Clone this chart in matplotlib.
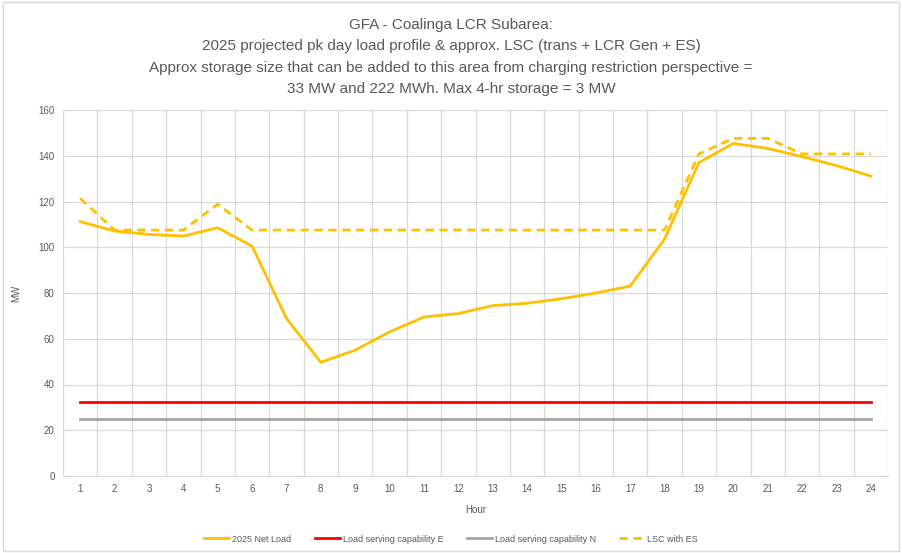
import numpy as np
import matplotlib.pyplot as plt

plt.rcParams['font.family'] = ['Liberation Sans Narrow', 'Liberation Sans', 'DejaVu Sans']

hours = list(range(1, 25))
net_load = [111.2, 107.1, 105.6, 104.9, 108.5, 100.5, 68.9, 49.7, 55.0, 63.0, 69.5, 71.0,
            74.5, 75.5, 77.5, 80.0, 83.0, 103.6, 137.0, 145.4, 143.2, 139.6, 135.7, 131.1]
lsc_e = [32.5] * 24
lsc_n = [25.0] * 24
lsc_es = [121.4, 107.5, 107.5, 107.5, 118.8, 107.5, 107.5, 107.5, 107.5, 107.5, 107.5, 107.5,
          107.5, 107.5, 107.5, 107.5, 107.5, 107.5, 140.8, 147.6, 147.6, 140.8, 140.8, 140.8]

title = ("GFA - Coalinga LCR Subarea:\n"
         "2025 projected pk day load profile & approx. LSC (trans + LCR Gen + ES)\n"
         "Approx storage size that can be added to this area from charging restriction perspective =\n"
         "33 MW and 222 MWh. Max 4-hr storage = 3 MW")

fig = plt.figure(figsize=(9.02, 5.53), dpi=100)
ax = fig.add_axes([63 / 902, 1 - 476 / 553, (888 - 63) / 902, (476 - 110) / 553])

ax.plot(hours, net_load, color='#FFC000', lw=2, label='2025 Net Load')
ax.plot(hours, lsc_e, color='#FF0000', lw=2, label='Load serving capability E')
ax.plot(hours, lsc_n, color='#A5A5A5', lw=2, label='Load serving capability N')
ax.plot(hours, lsc_es, color='#FFC000', lw=2, ls=(0, (3, 2)), label='LSC with ES')

ax.set_xlim(0.5, 24.5)
ax.set_ylim(0, 160)
ax.set_xticks(hours)
ax.set_xticks(np.arange(0.5, 25, 1), minor=True)
ax.set_yticks(range(0, 161, 20))
ax.grid(False)
ax.grid(True, which='minor', axis='x', color='#D9D9D9', lw=0.9)
ax.grid(True, which='major', axis='y', color='#D9D9D9', lw=0.9)
ax.set_axisbelow(True)
ax.tick_params(which='both', length=0, labelsize=7, colors='#595959', pad=6)
for s in ['top', 'right', 'left']:
    ax.spines[s].set_visible(False)
ax.spines['bottom'].set_color('#D9D9D9')

ax.set_xlabel('Hour', fontsize=7, color='#595959', labelpad=8)
ax.set_ylabel('MW', fontsize=7, color='#595959', labelpad=12)

fig.text(0.5, 1 - 57 / 553, title, ha='center', va='center', fontsize=11,
         color='#595959', linespacing=1.65)

fig.legend(loc='center', bbox_to_anchor=(0.5, 1 - 539 / 553), ncol=4, frameon=False,
           fontsize=6.5, labelcolor='#595959', handlelength=2.8, columnspacing=2.6,
           handletextpad=0.3)

fig.patches.append(plt.Rectangle((0.003, 0.003), 0.994, 0.994, transform=fig.transFigure,
                                 fill=False, edgecolor='#D9D9D9', lw=1))

fig.savefig('out.png', dpi=100)
